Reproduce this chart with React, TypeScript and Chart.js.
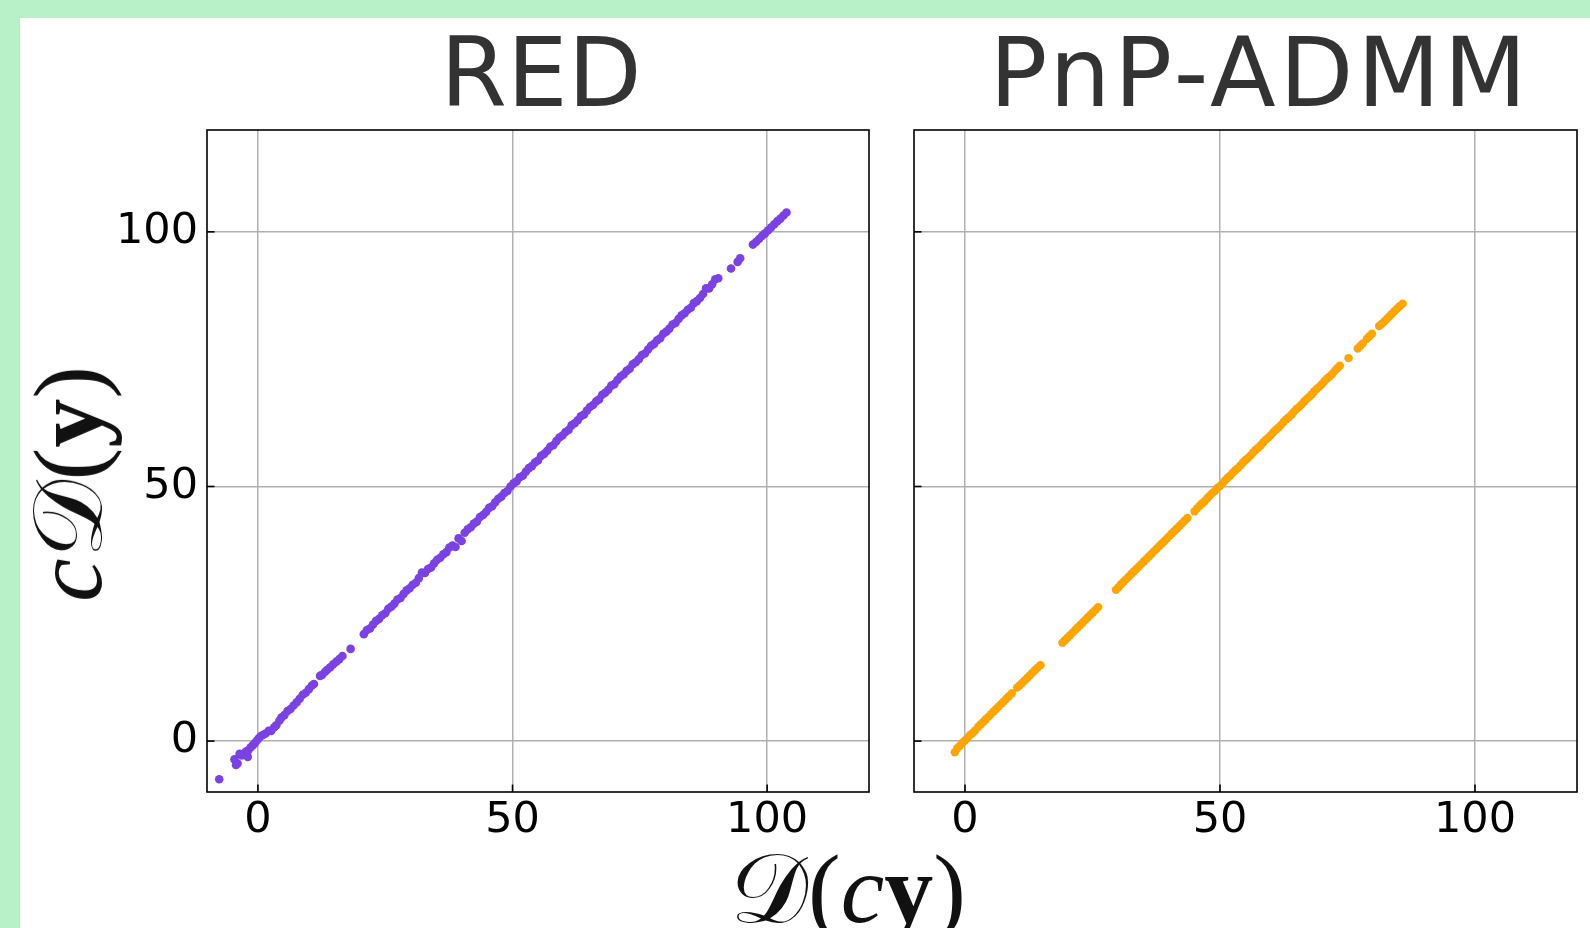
import React, { useEffect, useRef } from "react";
import { Chart, registerables } from "chart.js";
Chart.register(...registerables);

// ---- data ----
const redX = [
  -7.6, -4.6, -4.3, -4.0, -3.6, -3.2, -2.0, -2.4, -1.9, -1.4,
  -1.0, -0.6, -0.2, 0.2, 0.6, 1.0, 1.5, 2.1, 2.6, 3.2,
  3.6, 4.2, 4.6, 5.2, 5.8, 6.4, 7.0, 7.6, 8.2, 8.8,
  9.4, 10.0, 10.6, 11.0, 12.2, 12.6, 13.2, 13.6, 14.2, 14.8,
  15.4, 16.0, 16.6, 18.2,
  20.8, 21.4, 22.0, 22.6, 23.2, 23.8, 24.4, 25.0, 25.6, 26.2,
  26.8, 27.4, 28.0, 28.6, 29.2, 29.8, 30.4, 31.0, 31.6, 32.2,
  32.8, 33.4, 34.0, 34.6, 35.2, 35.8, 36.4, 37.0, 37.6, 38.2,
  38.8, 39.4, 40.0, 40.6, 41.2, 41.8, 42.4, 43.0, 43.6, 44.2,
  44.8, 45.4, 46.0, 46.6, 47.2, 47.8, 48.4, 49.0, 49.6, 50.2,
  50.8, 51.4, 52.0, 52.6, 53.2, 53.8, 54.4, 55.0, 55.6, 56.2,
  56.8, 57.4, 58.0, 58.6, 59.2, 59.8, 60.4, 61.0, 61.6, 62.2,
  62.8, 63.4, 64.0, 64.6, 65.2, 65.8, 66.4, 67.0, 67.6, 68.2,
  68.8, 69.4, 70.0, 70.6, 71.2, 71.8, 72.4, 73.0, 73.6, 74.2,
  74.8, 75.4, 76.0, 76.6, 77.2, 77.8, 78.4, 79.0, 79.6, 80.2,
  80.8, 81.4, 82.0, 82.6, 83.2, 83.8, 84.4, 85.0, 85.6, 86.2,
  86.8, 87.4, 88.0, 88.6, 89.2, 89.8, 90.4,
  92.9, 94.2, 94.7, 97.2, 97.8, 98.4, 99.0, 99.6, 100.2, 100.8,
  101.4, 102.0, 102.6, 103.2, 103.8,
];
const redY = [
  -7.5, -3.6, -4.7, -4.4, -2.5, -2.8, -3.1, -2.1, -1.8, -1.2,
  -0.8, -0.4, 0.1, 0.6, 1.0, 1.2, 1.5, 2.0, 2.0, 2.7,
  3.1, 4.0, 4.6, 5.1, 5.9, 6.3, 7.0, 7.6, 8.3, 9.1,
  9.5, 10.2, 10.9, 11.2, 12.8, 13.0, 13.6, 14.0, 14.5, 15.1,
  15.6, 16.1, 16.7, 18.1,
  21.0, 21.8, 22.1, 22.9, 23.6, 24.0, 24.7, 25.1, 26.0, 26.4,
  27.0, 27.8, 28.1, 28.9, 29.6, 30.0, 30.7, 31.1, 32.0, 33.1,
  33.0, 33.8, 34.1, 34.9, 35.6, 36.0, 36.7, 37.1, 38.0, 38.4,
  38.1, 39.8, 39.3, 40.9, 41.6, 42.0, 42.7, 43.1, 44.0, 44.4,
  45.0, 45.8, 46.1, 46.9, 47.6, 48.0, 48.7, 49.1, 50.0, 50.6,
  51.0, 51.8, 52.1, 52.9, 53.6, 54.0, 54.7, 55.1, 56.0, 56.4,
  57.0, 57.8, 58.1, 58.9, 59.6, 60.0, 60.7, 61.1, 62.0, 62.4,
  63.0, 63.8, 64.1, 64.9, 65.6, 66.0, 66.7, 67.1, 68.0, 68.4,
  69.0, 69.8, 70.1, 70.9, 71.6, 72.0, 72.7, 73.1, 74.0, 74.4,
  75.0, 75.8, 76.1, 76.9, 77.6, 78.0, 78.7, 79.1, 80.0, 80.4,
  81.0, 81.8, 82.1, 82.9, 83.6, 84.0, 84.7, 85.1, 86.0, 86.4,
  87.0, 87.8, 88.9, 88.9, 89.7, 90.7, 90.9,
  92.8, 94.1, 94.8, 97.5, 98.0, 98.6, 99.2, 99.7, 100.3, 100.9,
  101.5, 102.1, 102.6, 103.2, 103.8,
];

const pnpX = [
  -2.0,
  -1.5, -1.0, -0.5, 0.0, 0.5, 1.0, 1.5, 2.0,
  2.6, 3.1, 3.6, 4.1, 4.6, 5.1, 5.6, 6.1, 6.6, 7.1, 7.6, 8.1, 8.6, 9.2,
  10.2, 10.7, 11.2, 11.7, 12.2, 12.7, 13.2, 13.7, 14.2, 14.8,
  19.1, 19.6, 20.1, 20.6, 21.1, 21.6, 22.1, 22.6, 23.1, 23.6, 24.1, 24.6, 25.1, 25.6, 26.1,
  29.6, 30.1, 30.6, 31.1, 31.6, 32.1, 32.6, 33.1, 33.6, 34.1,
  34.6, 35.1, 35.6, 36.1, 36.6, 37.1, 37.6, 38.1, 38.6, 39.1,
  39.6, 40.1, 40.6, 41.1, 41.6, 42.1, 42.6, 43.1, 43.6,
  45.0, 45.5, 46.0, 46.5, 47.0, 47.5, 48.0, 48.5, 49.0, 49.5,
  50.0, 50.5, 51.0, 51.5, 52.0, 52.5, 53.0, 53.5, 54.0, 54.5,
  55.0, 55.5, 56.0, 56.5, 57.0, 57.5, 58.0, 58.5, 59.0, 59.5,
  60.0, 60.5, 61.0, 61.5, 62.0, 62.5, 63.0, 63.5, 64.0, 64.5,
  65.0, 65.5, 66.0, 66.5, 67.0, 67.5, 68.0, 68.5, 69.0, 69.5,
  70.0, 70.5, 71.0, 71.5, 72.0, 72.5, 73.0, 73.5,
  75.2,
  77.0, 77.5, 78.0,
  78.8, 79.3, 79.8,
  81.2, 81.7, 82.2, 82.7, 83.2, 83.7, 84.2, 84.7, 85.2, 85.8,
];
const pnpY = [
  -2.2,
  -1.4, -0.9, -0.3, 0.1, 0.6, 1.2, 1.6, 2.1,
  2.8, 3.3, 3.8, 4.3, 4.8, 5.3, 5.8, 6.3, 6.8, 7.3, 7.8, 8.3, 8.8, 9.4,
  10.5, 10.9, 11.4, 11.9, 12.4, 12.9, 13.4, 13.9, 14.4, 14.9,
  19.3, 19.8, 20.3, 20.8, 21.3, 21.8, 22.3, 22.8, 23.3, 23.8, 24.3, 24.8, 25.3, 25.8, 26.3,
  29.7, 30.2, 30.8, 31.3, 31.8, 32.3, 32.8, 33.3, 33.8, 34.3,
  34.8, 35.3, 35.8, 36.3, 36.8, 37.3, 37.8, 38.3, 38.8, 39.3,
  39.8, 40.3, 40.8, 41.3, 41.8, 42.3, 42.8, 43.3, 43.8,
  45.1, 45.7, 46.2, 46.7, 47.1, 47.7, 48.2, 48.7, 49.1, 49.7,
  50.1, 50.6, 51.2, 51.7, 52.1, 52.7, 53.2, 53.6, 54.1, 54.7,
  55.2, 55.6, 56.1, 56.7, 57.2, 57.6, 58.1, 58.7, 59.2, 59.6,
  60.1, 60.7, 61.2, 61.6, 62.1, 62.7, 63.2, 63.6, 64.1, 64.7,
  65.2, 65.6, 66.1, 66.7, 67.2, 67.6, 68.1, 68.7, 69.2, 69.6,
  70.1, 70.7, 71.2, 71.6, 72.1, 72.7, 73.2, 73.7,
  75.2,
  77.1, 77.6, 78.1,
  79.0, 79.5, 80.0,
  81.5, 81.9, 82.4, 82.9, 83.4, 83.9, 84.4, 84.9, 85.4, 85.9,
];

const tickValues = [0, 50, 100];
const axisMin = -10;
const axisMax = 120;
const panelTitles = ["RED", "PnP-ADMM"];

const framePlugin = {
  id: "frameAndInwardTicks",
  afterDraw(chart: any) {
    const { ctx, chartArea: a, scales } = chart;
    ctx.save();
    ctx.strokeStyle = "#000";
    ctx.lineWidth = 1.6;
    ctx.strokeRect(a.left, a.top, a.right - a.left, a.bottom - a.top);
    for (const v of tickValues) {
      const px = scales.x.getPixelForValue(v);
      ctx.beginPath();
      ctx.moveTo(px, a.bottom);
      ctx.lineTo(px, a.bottom - 7.5);
      ctx.stroke();
      const py = scales.y.getPixelForValue(v);
      ctx.beginPath();
      ctx.moveTo(a.left, py);
      ctx.lineTo(a.left + 7.5, py);
      ctx.stroke();
    }
    ctx.restore();
  },
};

function Panel(props: {
  xs: number[];
  ys: number[];
  color: string;
  radius: number;
  showYLabels: boolean;
  yAxisWidth: number;
  left: number;
  top: number;
  width: number;
  height: number;
}) {
  const ref = useRef<HTMLCanvasElement | null>(null);
  useEffect(() => {
    if (!ref.current) return;
    const pts = props.xs.map((x, i) => ({ x, y: props.ys[i] }));
    const tickFont = { family: "'DejaVu Sans'", size: 43 };
    const chart = new Chart(ref.current, {
      type: "scatter",
      data: {
        datasets: [
          {
            data: pts,
            backgroundColor: props.color,
            borderWidth: 0,
            pointRadius: props.radius,
          },
        ],
      },
      options: {
        animation: false,
        responsive: false,
        devicePixelRatio: 1,
        layout: { padding: { top: 10, right: 10, left: 0, bottom: 0 } },
        plugins: { legend: { display: false }, tooltip: { enabled: false }, title: { display: false } },
        scales: {
          x: {
            type: "linear",
            min: axisMin,
            max: axisMax,
            afterBuildTicks: (s: any) => {
              s.ticks = tickValues.map((v) => ({ value: v }));
            },
            afterFit: (s: any) => {
              s.height = 60;
              s.paddingLeft = 0;
              s.paddingRight = 0;
            },
            grid: { color: "#b0b0b0", lineWidth: 1.5, drawTicks: false },
            border: { display: false },
            ticks: { font: tickFont, color: "#000", padding: 3, maxRotation: 0, autoSkip: false },
          },
          y: {
            type: "linear",
            min: axisMin,
            max: axisMax,
            afterBuildTicks: (s: any) => {
              s.ticks = tickValues.map((v) => ({ value: v }));
            },
            afterFit: (s: any) => {
              s.width = props.yAxisWidth;
              s.paddingTop = 0;
              s.paddingBottom = 0;
            },
            grid: { color: "#b0b0b0", lineWidth: 1.5, drawTicks: false },
            border: { display: false },
            ticks: { display: props.showYLabels, font: tickFont, color: "#000", padding: 9, autoSkip: false },
          },
        },
      },
      plugins: [framePlugin],
    } as any);
    return () => chart.destroy();
  }, []);
  return (
    <canvas
      ref={ref}
      width={props.width}
      height={props.height}
      style={{ position: "absolute", left: props.left, top: props.top, width: props.width, height: props.height }}
    />
  );
}

const mathFont = "'Liberation Serif', 'DejaVu Serif', serif";

const titleStyle: any = {
  position: "absolute",
  top: 25,
  transform: "translateX(-50%)",
  fontFamily: "'DejaVu Sans'",
  fontSize: 96,
  lineHeight: "96px",
  color: "#333",
  whiteSpace: "nowrap",
};

export default function App() {
  return (
    <div
      style={{
        position: "absolute",
        left: 0,
        top: 0,
        width: 1590,
        height: 928,
        background: "#b8f0c8",
        overflow: "hidden",
      }}
    >
      <div style={{ position: "absolute", left: 20, top: 18, right: 0, bottom: 0, background: "#fff" }} />
      <div style={{ ...titleStyle, left: 541 }}>{panelTitles[0]}</div>
      <div style={{ ...titleStyle, left: 1260, letterSpacing: "3.8px" }}>{panelTitles[1]}</div>
      <Panel xs={redX} ys={redY} color="#7b42e3" radius={4.3} showYLabels={true} yAxisWidth={107} left={100} top={120} width={779} height={732} />
      <Panel xs={pnpX} ys={pnpY} color="#ffa500" radius={4.2} showYLabels={false} yAxisWidth={20} left={894} top={120} width={693} height={732} />
      {/* y-axis label */}
      <div
        style={{
          position: "absolute",
          left: 68,
          top: 484,
          transform: "translate(-50%, -50%) rotate(-90deg)",
          fontSize: 98,
          lineHeight: "98px",
          color: "#111",
          whiteSpace: "nowrap",
        }}
      >
        <span style={{ fontFamily: mathFont }}>
          <span style={{ fontStyle: "italic" }}>c</span>
          <span>𝒟</span>
          <span>(</span>
          <span style={{ fontWeight: "bold" }}>y</span>
          <span>)</span>
        </span>
      </div>
      {/* x-axis label */}
      <div
        style={{
          position: "absolute",
          left: 848,
          top: 840,
          transform: "translateX(-50%)",
          fontSize: 98,
          lineHeight: "98px",
          color: "#111",
          whiteSpace: "nowrap",
        }}
      >
        <span style={{ fontFamily: mathFont }}>
          <span>𝒟</span>
          <span>(</span>
          <span style={{ fontStyle: "italic" }}>c</span>
          <span style={{ fontWeight: "bold" }}>y</span>
          <span>)</span>
        </span>
      </div>
    </div>
  );
}
